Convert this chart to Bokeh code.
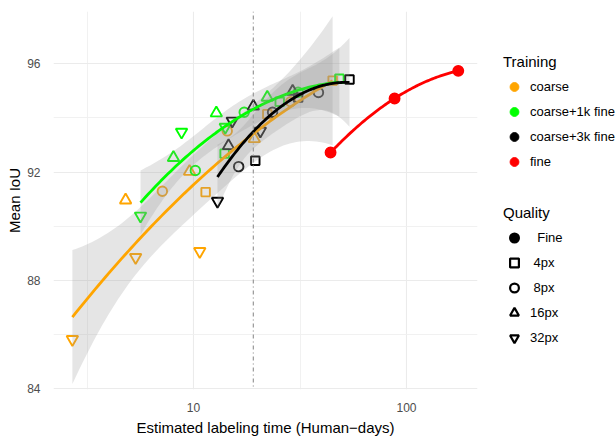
import math
import numpy as np
from bokeh.plotting import figure
from bokeh.layouts import row
from bokeh.models import FixedTicker, Legend, LegendItem, Span, Range1d
from bokeh.embed import file_html
from bokeh.resources import INLINE

# ---------------- data ----------------
training_levels = ["coarse", "coarse+1k fine", "coarse+3k fine", "fine"]
quality_levels = ["Fine", "4px", "8px", "16px", "32px"]
quality_labels = ["  Fine", " 4px", " 8px", "16px", "32px"]

coarse_quality = ["32px"] * 3 + ["16px"] * 3 + ["8px"] * 3 + ["4px"] * 3
coarse_x = [2.70, 5.35, 10.7, 4.80, 9.58, 19.3, 7.14, 14.4, 28.6, 11.4, 22.2, 45.0]
coarse_y = [85.82, 88.85, 89.07, 90.96, 92.02, 93.23, 91.29, 93.52, 94.60, 91.26, 94.14, 95.38]

fine1k_quality = ["32px"] * 3 + ["16px"] * 3 + ["8px"] * 3 + ["4px"] * 3
fine1k_x = [5.64, 8.79, 14.1, 8.05, 12.8, 22.2, 10.2, 17.3, 31.0, 14.0, 25.4, 48.4]
fine1k_y = [90.38, 93.48, 93.66, 92.53, 94.18, 94.76, 92.06, 94.21, 94.95, 92.68, 94.60, 95.45]

fine3k_quality = ["32px"] * 3 + ["16px"] * 3 + ["8px"] * 3 + ["4px"] * 3
fine3k_x = [12.96, 15.2, 20.6, 14.6, 19.1, 29.2, 16.3, 23.5, 38.6, 19.5, 31.0, 54.0]
fine3k_y = [90.93, 93.89, 93.52, 92.97, 94.43, 94.98, 92.20, 94.21, 94.94, 92.42, 94.75, 95.42]

fine_quality = ["Fine"] * 3
fine_x = [44.0, 87.9, 175.0]
fine_y = [92.72, 94.72, 95.74]

x_ticks = [10, 100]
x_tick_labels = ["10", "100"]
x_minor = [10 ** 0.5, 10 ** 1.5, 10 ** 2.5]
y_ticks = [84, 88, 92, 96]
y_minor = [86, 90, 94]
cutoff_x = 19.1

groups = {
    "coarse": (coarse_x, coarse_y, coarse_quality),
    "coarse+1k fine": (fine1k_x, fine1k_y, fine1k_quality),
    "coarse+3k fine": (fine3k_x, fine3k_y, fine3k_quality),
    "fine": (fine_x, fine_y, fine_quality),
}

# ---------------- styles ----------------
FONT = "Liberation Sans"
colors = {"coarse": "#FFA500", "coarse+1k fine": "#00FF00",
          "coarse+3k fine": "#000000", "fine": "#FF0000"}
markers = {"Fine": "circle", "4px": "square", "8px": "circle",
           "16px": "triangle", "32px": "inverted_triangle"}
msizes = {"Fine": 10, "4px": 8.5, "8px": 9.5, "16px": 11.5, "32px": 11.5}
NAN = float("nan")


def t_quantile(p, df):
    xs = np.linspace(0, 30, 300001)
    c = math.exp(math.lgamma((df + 1) / 2) - math.lgamma(df / 2)) / math.sqrt(df * math.pi)
    pdf = c * (1 + xs ** 2 / df) ** (-(df + 1) / 2)
    cdf = 0.5 + np.concatenate([[0.0], np.cumsum((pdf[1:] + pdf[:-1]) / 2 * np.diff(xs))])
    return float(np.interp(p, cdf, xs))


def quad_fit(x, y, npts=80):
    u = np.log10(np.asarray(x, float))
    yy = np.asarray(y, float)
    X = np.column_stack([np.ones_like(u), u, u ** 2])
    beta, *_ = np.linalg.lstsq(X, yy, rcond=None)
    un = np.linspace(u.min(), u.max(), npts)
    Xn = np.column_stack([np.ones_like(un), un, un ** 2])
    fit = Xn @ beta
    n = len(u)
    if n > 3:
        res = yy - X @ beta
        s2 = float(res @ res) / (n - 3)
        XtXi = np.linalg.inv(X.T @ X)
        se = np.sqrt(s2 * np.einsum("ij,jk,ik->i", Xn, XtXi, Xn))
        tq = t_quantile(0.975, n - 3)
        lo, hi = fit - tq * se, fit + tq * se
    else:
        lo = hi = None
    return 10 ** un, fit, lo, hi


p = figure(width=482, height=438, x_axis_type="log",
           x_range=Range1d(10 ** (1 - 140 / 213), 10 ** (1 + 284 / 213)),
           y_range=Range1d(96 - 330 / 27.42, 96 + 53 / 27.42),
           output_backend="svg", toolbar_location=None,
           min_border_left=53, min_border_right=5, min_border_top=11, min_border_bottom=44)
p.outline_line_color = None
p.background_fill_color = "white"
p.border_fill_color = "white"

# grid
p.xgrid.ticker = FixedTicker(ticks=x_ticks, minor_ticks=x_minor)
p.ygrid.ticker = FixedTicker(ticks=y_ticks, minor_ticks=y_minor)
for g in (p.xgrid, p.ygrid):
    g.grid_line_color = "#EBEBEB"
    g.grid_line_width = 1.1
    g.minor_grid_line_color = "#EFEFEF"
    g.minor_grid_line_width = 0.9

# axes
p.xaxis.ticker = FixedTicker(ticks=x_ticks)
p.xaxis.major_label_overrides = {t: l for t, l in zip(x_ticks, x_tick_labels)}
p.yaxis.ticker = FixedTicker(ticks=y_ticks)
p.xaxis.axis_label = "Estimated labeling time (Human\u2212days)"
p.yaxis.axis_label = "Mean IoU"
for ax in (p.xaxis, p.yaxis):
    ax.axis_line_color = None
    ax.major_tick_line_color = None
    ax.minor_tick_line_color = None
    ax.major_label_text_color = "#4D4D4D"
    ax.major_label_text_font_size = "12px"
    ax.major_label_text_font = FONT
    ax.axis_label_text_font = FONT
    ax.axis_label_text_font_size = "15px"
    ax.axis_label_text_font_style = "normal"
    ax.axis_label_text_color = "#000000"
p.xaxis.major_label_standoff = 7
p.xaxis.axis_label_standoff = 4
p.yaxis.major_label_standoff = 7
p.yaxis.axis_label_standoff = 1

# points
for tr in training_levels:
    xs, ys, qs = groups[tr]
    for q in quality_levels:
        idx = [i for i, qq in enumerate(qs) if qq == q]
        if not idx:
            continue
        p.scatter([xs[i] for i in idx], [ys[i] for i in idx], marker=markers[q],
                  size=msizes[q], line_color=colors[tr], line_width=1.9,
                  fill_color=colors[tr] if q == "Fine" else None)

# smooth fits (ribbon + line), in group order
for tr in training_levels:
    xs, ys, qs = groups[tr]
    fx, fy, lo, hi = quad_fit(xs, ys)
    if lo is not None:
        p.varea(x=fx, y1=lo, y2=hi, fill_color="#999999", fill_alpha=0.25)
    p.line(fx, fy, line_color=colors[tr], line_width=2.8)

# vertical reference line
p.add_layout(Span(location=cutoff_x, dimension="height", line_color="#9E9E9E",
                  line_width=1.3, line_dash="1 3 4 3"))

# ---------------- legend panel ----------------
lp = figure(width=134, height=438, x_range=Range1d(0, 1), y_range=Range1d(0, 1),
            output_backend="svg", toolbar_location=None, min_border=0)
lp.axis.visible = False
lp.grid.visible = False
lp.outline_line_color = None
lp.background_fill_color = "white"
lp.border_fill_color = "white"

tr_items = []
for tr in training_levels:
    r = lp.scatter([NAN], [NAN], marker="circle", size=10, fill_color=colors[tr],
                   line_color=colors[tr], line_width=1)
    tr_items.append(LegendItem(label=tr, renderers=[r]))
q_items = []
for q, lab in zip(quality_levels, quality_labels):
    r = lp.scatter([NAN], [NAN], marker=markers[q], size=10, line_color="#000000",
                   line_width=2.2, fill_color="#000000" if q == "Fine" else None)
    q_items.append(LegendItem(label=lab, renderers=[r]))


def make_legend(items, title, loc):
    return Legend(items=items, title=title, location=loc, orientation="vertical",
                  glyph_width=22, glyph_height=25, spacing=0, padding=0, margin=0,
                  label_standoff=5, title_standoff=4,
                  label_text_font=FONT, label_text_font_size="13px",
                  label_text_color="#000000",
                  title_text_font=FONT, title_text_font_size="15px",
                  title_text_font_style="normal", title_text_color="#000000",
                  background_fill_alpha=0, border_line_alpha=0)


lp.add_layout(make_legend(tr_items, "Training", (21, 215)))
lp.add_layout(make_legend(q_items, "Quality", (21, 39)))

layout = row(p, lp)
open("out.html", "w").write(file_html(layout, INLINE))
